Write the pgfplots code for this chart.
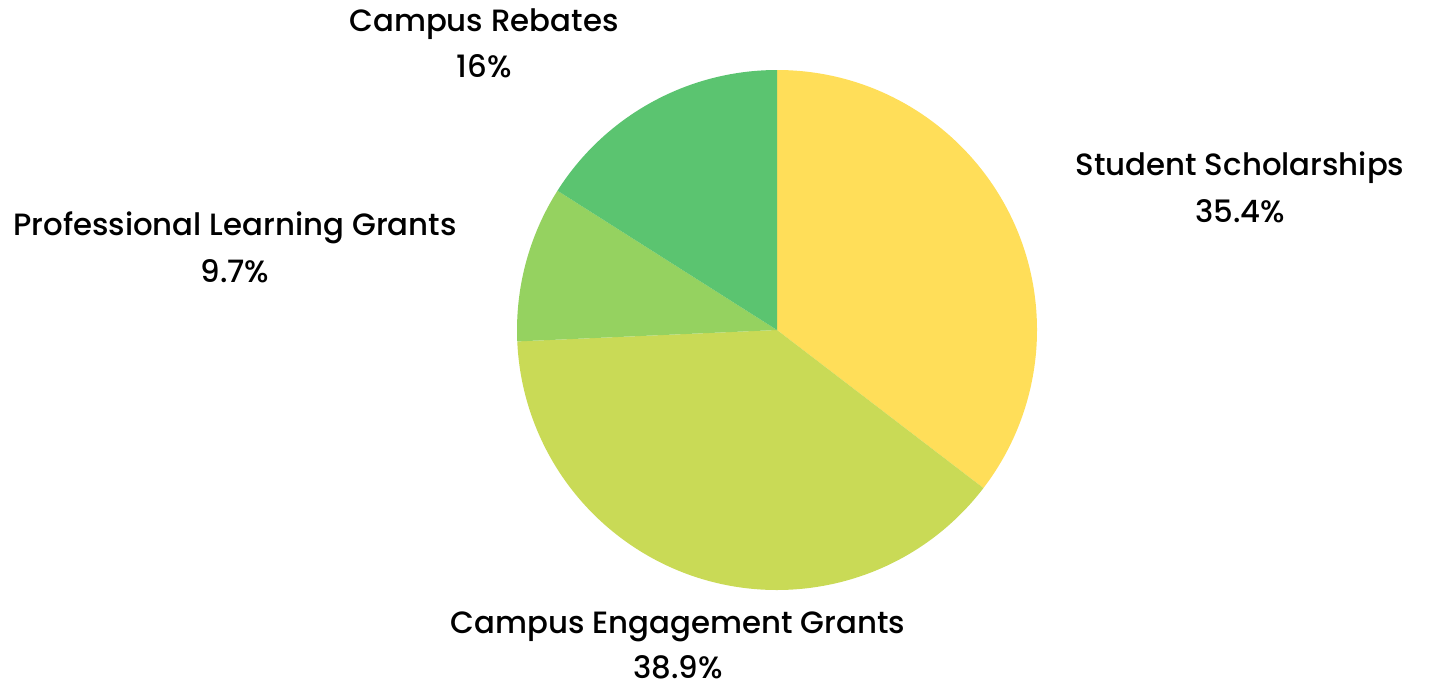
\documentclass[border=0pt]{standalone}
\usepackage{pgfplots}
\pgfplotsset{compat=1.18}
\usepackage{fontspec}
\setmainfont{Poppins Medium}

\definecolor{scholar}{HTML}{FFDE59}
\definecolor{engage}{HTML}{C9DA56}
\definecolor{proflearn}{HTML}{95D260}
\definecolor{rebates}{HTML}{5BC470}

% slice shares in percent, clockwise from 12 o'clock
\def\pA{35.4}\def\pB{38.9}\def\pC{9.7}\def\pD{16}

\begin{document}
\begin{tikzpicture}
\begin{axis}[
    x=0.5pt, y=0.5pt,
    xmin=0, xmax=1429, ymin=0, ymax=682,
    hide axis, clip=false,
    scale only axis,
]
\path (axis cs:0,0) rectangle (axis cs:1429,682);
% pie centre at (777,352), radius 260 px = 130pt
\fill[scholar] (axis cs:777,352) -- ++(90:130pt)
    arc[start angle=90, delta angle=-3.6*\pA, radius=130pt] -- cycle;
\fill[engage] (axis cs:777,352) -- ++({90-3.6*\pA}:130pt)
    arc[start angle={90-3.6*\pA}, delta angle=-3.6*\pB, radius=130pt] -- cycle;
\fill[proflearn] (axis cs:777,352) -- ++({90-3.6*(\pA+\pB)}:130pt)
    arc[start angle={90-3.6*(\pA+\pB)}, delta angle=-3.6*\pC, radius=130pt] -- cycle;
\fill[rebates] (axis cs:777,352) -- ++({90-3.6*(\pA+\pB+\pC)}:130pt)
    arc[start angle={90-3.6*(\pA+\pB+\pC)}, delta angle=-3.6*\pD, radius=130pt] -- cycle;

\tikzset{lbl/.style={font=\fontsize{15.4}{19}\selectfont, text=black,
    inner sep=0pt, anchor=base, overlay}}
\node[lbl] at (axis cs:484,650) {Campus Rebates};
\node[lbl] at (axis cs:484,604) {16\%};
\node[lbl] at (axis cs:1240,507) {Student Scholarships};
\node[lbl] at (axis cs:1240,460) {35.4\%};
\node[lbl] at (axis cs:235,447) {Professional Learning Grants};
\node[lbl] at (axis cs:235,400) {9.7\%};
\node[lbl] at (axis cs:678,49) {Campus Engagement Grants};
\node[lbl] at (axis cs:678,4) {38.9\%};
\end{axis}
\end{tikzpicture}
\end{document}
